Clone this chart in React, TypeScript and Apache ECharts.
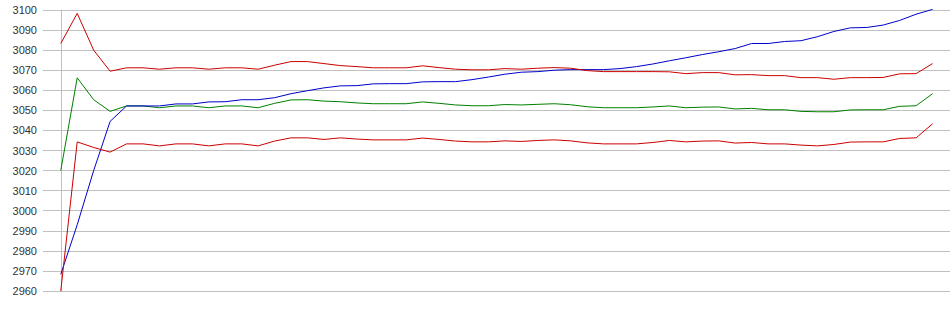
import React, { useEffect, useRef } from "react";
import * as echarts from "echarts";

// Tick labels of the value axis
const yTicks = [2960, 2970, 2980, 2990, 3000, 3010, 3020, 3030, 3040, 3050, 3060, 3070, 3080, 3090, 3100];

// Upper band (red)
const upperBand = [
  3083.3, 3098.3, 3080, 3069.5, 3071.2, 3071.2, 3070.5, 3071.2, 3071.2, 3070.5,
  3071.2, 3071.2, 3070.5, 3072.5, 3074.3, 3074.3, 3073.3, 3072.3, 3071.8, 3071.2,
  3071.2, 3071.2, 3072.2, 3071.3, 3070.5, 3070.2, 3070.2, 3070.8, 3070.5, 3071,
  3071.3, 3071, 3069.8, 3069.3, 3069.3, 3069.3, 3069.3, 3069.2, 3068.3, 3068.8,
  3068.8, 3067.7, 3067.8, 3067.3, 3067.3, 3066.3, 3066.3, 3065.5, 3066.3, 3066.3,
  3066.4, 3068.2, 3068.3, 3073.3,
];

// Middle band (green)
const middleBand = [
  3020, 3066.2, 3055.3, 3049.5, 3052.2, 3052.2, 3051.3, 3052.2, 3052.2, 3051.3,
  3052.2, 3052.2, 3051.3, 3053.5, 3055.2, 3055.3, 3054.6, 3054.3, 3053.7, 3053.3,
  3053.3, 3053.3, 3054.2, 3053.5, 3052.7, 3052.3, 3052.3, 3052.9, 3052.7, 3053,
  3053.3, 3052.8, 3051.8, 3051.3, 3051.3, 3051.3, 3051.7, 3052.2, 3051.3, 3051.6,
  3051.7, 3050.7, 3051, 3050.3, 3050.3, 3049.5, 3049.3, 3049.3, 3050.2, 3050.3,
  3050.3, 3052, 3052.3, 3058.3,
];

// Lower band (red)
const lowerBand = [
  2960, 3034.3, 3031.5, 3029.2, 3033.3, 3033.3, 3032.3, 3033.3, 3033.3, 3032.3,
  3033.3, 3033.3, 3032.3, 3034.7, 3036.3, 3036.3, 3035.5, 3036.3, 3035.7, 3035.3,
  3035.3, 3035.3, 3036.2, 3035.5, 3034.7, 3034.3, 3034.3, 3034.8, 3034.5, 3035,
  3035.3, 3034.8, 3033.8, 3033.3, 3033.3, 3033.3, 3034, 3035, 3034.3, 3034.7,
  3034.8, 3033.7, 3034, 3033.3, 3033.3, 3032.7, 3032.3, 3033, 3034.2, 3034.3,
  3034.3, 3036, 3036.3, 3043.3,
];

// Price line (blue)
const priceLine = [
  2968.3, 2993, 3020, 3044.5, 3052.2, 3052.2, 3052.2, 3053.2, 3053.2, 3054.2,
  3054.3, 3055.3, 3055.3, 3056.3, 3058.3, 3059.8, 3061.2, 3062.2, 3062.3, 3063.2,
  3063.3, 3063.3, 3064.2, 3064.3, 3064.3, 3065.3, 3066.6, 3068, 3069, 3069.3,
  3070, 3070.3, 3070.3, 3070.3, 3070.8, 3071.8, 3073.1, 3074.7, 3076.2, 3077.8,
  3079.2, 3080.8, 3083.3, 3083.3, 3084.3, 3084.7, 3086.7, 3089.3, 3091.1, 3091.3,
  3092.5, 3094.8, 3097.9, 3100.3,
];

const toPairs = (arr: number[]) => arr.map((v, i) => [i, v]);

export default function App() {
  const ref = useRef<HTMLDivElement>(null);

  useEffect(() => {
    if (!ref.current) return;
    const chart = echarts.init(ref.current, null, { renderer: "svg" });
    const lineSeries = (name: string, data: number[], color: string, z: number) => ({
      name,
      type: "line",
      data: toPairs(data),
      showSymbol: false,
      symbol: "none",
      clip: false,
      z,
      lineStyle: { color, width: 1 },
      itemStyle: { color },
      emphasis: { disabled: true },
    });
    chart.setOption({
      animation: false,
      backgroundColor: "#ffffff",
      grid: { left: 43, right: 0, top: 10, bottom: 24, containLabel: false },
      xAxis: {
        type: "value",
        min: -1.08,
        max: 54.06,
        show: true,
        axisLine: { show: false },
        axisTick: { show: false },
        axisLabel: { show: false },
        splitLine: { show: false },
      },
      yAxis: {
        type: "value",
        min: yTicks[0],
        max: yTicks[yTicks.length - 1],
        interval: 10,
        axisLine: { show: true, lineStyle: { color: "#c0c0c0", width: 1 } },
        axisTick: { show: false },
        axisLabel: {
          color: "#333333",
          fontFamily: "Liberation Sans, Arial, sans-serif",
          fontSize: 11,
          margin: 6,
          formatter: (v: number) => String(v),
        },
        splitLine: { show: true, lineStyle: { color: "#c0c0c0", width: 1 } },
      },
      series: [
        lineSeries("Middle", middleBand, "#008000", 2),
        lineSeries("Price", priceLine, "#0000cc", 3),
        lineSeries("Lower", lowerBand, "#cc0000", 4),
        lineSeries("Upper", upperBand, "#cc0000", 5),
      ],
    });
    return () => chart.dispose();
  }, []);

  return (
    <div
      ref={ref}
      style={{ position: "fixed", left: 0, top: 0, width: 950, height: 315, background: "#fff" }}
    />
  );
}
